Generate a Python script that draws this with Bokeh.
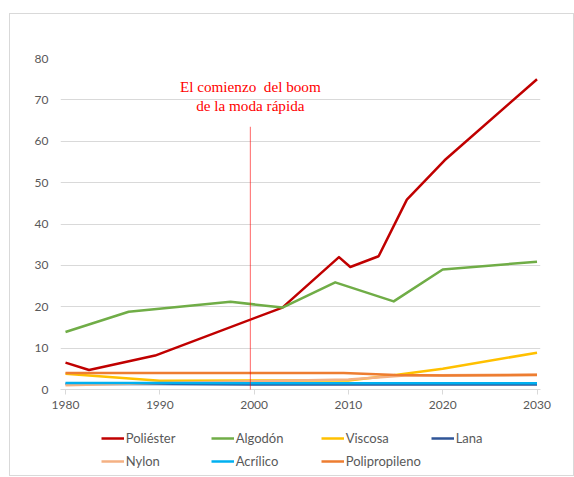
from bokeh.plotting import figure
from bokeh.layouts import column
from bokeh.models import Legend, LegendItem, Label, Arrow, Range1d, FixedTicker
from bokeh.embed import file_html
from bokeh.resources import INLINE

# ---- data ----
poliester_x = [1980, 1982.5, 1989.5, 2003, 2009, 2010.2, 2013.2, 2016.2, 2020.2, 2030]
poliester_y = [6.5, 4.7, 8.2, 19.8, 32.0, 29.6, 32.2, 45.9, 55.4, 75.0]

algodon_x = [1980, 1986.7, 1997.5, 2003, 2008.6, 2014.8, 2020, 2030]
algodon_y = [13.9, 18.8, 21.2, 19.8, 25.9, 21.3, 29.0, 30.9]

viscosa_x = [1980, 1990, 2010, 2015, 2020, 2030]
viscosa_y = [3.8, 2.1, 2.2, 3.5, 5.0, 8.9]

lana_x = [1980, 1990, 2000, 2010, 2020, 2030]
lana_y = [1.3, 1.3, 1.2, 1.2, 1.2, 1.2]

nylon_x = [1980, 1990, 2000, 2010, 2016, 2030]
nylon_y = [1.0, 1.6, 2.0, 2.4, 3.4, 3.6]

acrilico_x = [1980, 1990, 2000, 2010, 2020, 2030]
acrilico_y = [1.6, 1.6, 1.5, 1.5, 1.5, 1.5]

polipropileno_x = [1980, 2009.5, 2015, 2020, 2030]
polipropileno_y = [4.0, 4.0, 3.5, 3.4, 3.5]

x_ticks = [1980, 1990, 2000, 2010, 2020, 2030]
y_ticks = [0, 10, 20, 30, 40, 50, 60, 70, 80]

series = [
    ("Poliéster", poliester_x, poliester_y, "#C00000"),
    ("Algodón", algodon_x, algodon_y, "#70AD47"),
    ("Viscosa", viscosa_x, viscosa_y, "#FFC000"),
    ("Lana", lana_x, lana_y, "#2F5597"),
    ("Nylon", nylon_x, nylon_y, "#F4B183"),
    ("Acrílico", acrilico_x, acrilico_y, "#00B0F0"),
    ("Polipropileno", polipropileno_x, polipropileno_y, "#ED7D31"),
]

annot_lines = ["El comienzo\u00a0 del boom", "de la moda rápida"]
boom_year = 1999.6

TXT = "#595959"
FONT = "Lato"
W = 563

# ---- main chart ----
p = figure(width=W, height=406, output_backend="svg", toolbar_location=None,
           x_range=Range1d(1979.47, 2030.37), y_range=Range1d(0, 80),
           min_border_left=50, min_border_right=33, min_border_top=44,
           min_border_bottom=31, background_fill_color="white",
           border_fill_color="white")
p.outline_line_color = None

p.xgrid.visible = False
p.ygrid.grid_line_color = "#d9d9d9"
p.ygrid.grid_line_width = 1
p.ygrid.ticker = FixedTicker(ticks=y_ticks)

p.xaxis.ticker = FixedTicker(ticks=x_ticks)
p.xaxis.axis_line_color = "#d9d9d9"
p.xaxis.major_tick_line_color = "#d9d9d9"
p.xaxis.major_tick_in = 0
p.xaxis.major_tick_out = 5
p.xaxis.minor_tick_line_color = None
p.xaxis.major_label_standoff = 6
p.xaxis.major_label_text_font = FONT
p.xaxis.major_label_text_font_size = "12px"
p.xaxis.major_label_text_color = TXT

p.yaxis.ticker = FixedTicker(ticks=y_ticks)
p.yaxis.axis_line_color = None
p.yaxis.major_tick_line_color = None
p.yaxis.minor_tick_line_color = None
p.yaxis.major_tick_in = 0
p.yaxis.major_tick_out = 0
p.yaxis.major_label_standoff = 12
p.yaxis.major_label_text_font = FONT
p.yaxis.major_label_text_font_size = "12px"
p.yaxis.major_label_text_color = TXT

for name, xs, ys, col in series:
    p.line(xs, ys, line_color=col, line_width=2.5, line_join="round")

p.add_layout(Arrow(x_start=boom_year, y_start=63.5, x_end=boom_year, y_end=-1.9,
                   end=None, line_color="#ff0000", line_alpha=0.6, line_width=1))

for txt, yv in zip(annot_lines, [73.3, 68.7]):
    p.add_layout(Label(x=boom_year, y=yv, text=txt, text_align="center",
                       text_baseline="alphabetic", text_font="Liberation Serif",
                       text_font_size="15.2px", text_color="#ff0000"))

# ---- legend strip (same series, drawn off-range so only the legend shows) ----
p2 = figure(width=W, height=55, output_backend="svg", toolbar_location=None,
            x_range=Range1d(0, 1), y_range=Range1d(0, 1),
            x_axis_type=None, y_axis_type=None,
            min_border=0, background_fill_color="white", border_fill_color="white")
p2.outline_line_color = None
items = []
for name, xs, ys, col in series:
    r = p2.line(xs, ys, line_color=col, line_width=2.5)
    items.append(LegendItem(label=name, renderers=[r]))

legend = Legend(items=items, location=(40.7, 4), orientation="horizontal",
                ncols=4, glyph_width=23, glyph_height=20, label_standoff=2,
                label_width=82, spacing=3, padding=0, margin=0,
                border_line_color=None, background_fill_alpha=0,
                label_text_font=FONT, label_text_font_size="13px",
                label_text_color=TXT)
p2.add_layout(legend, "center")

layout = column(p, p2, spacing=0)
layout.margin = (13, 0, 0, 9)
layout.styles = {"border": "1px solid #d9d9d9"}

open("out.html", "w").write(file_html(layout, INLINE))
